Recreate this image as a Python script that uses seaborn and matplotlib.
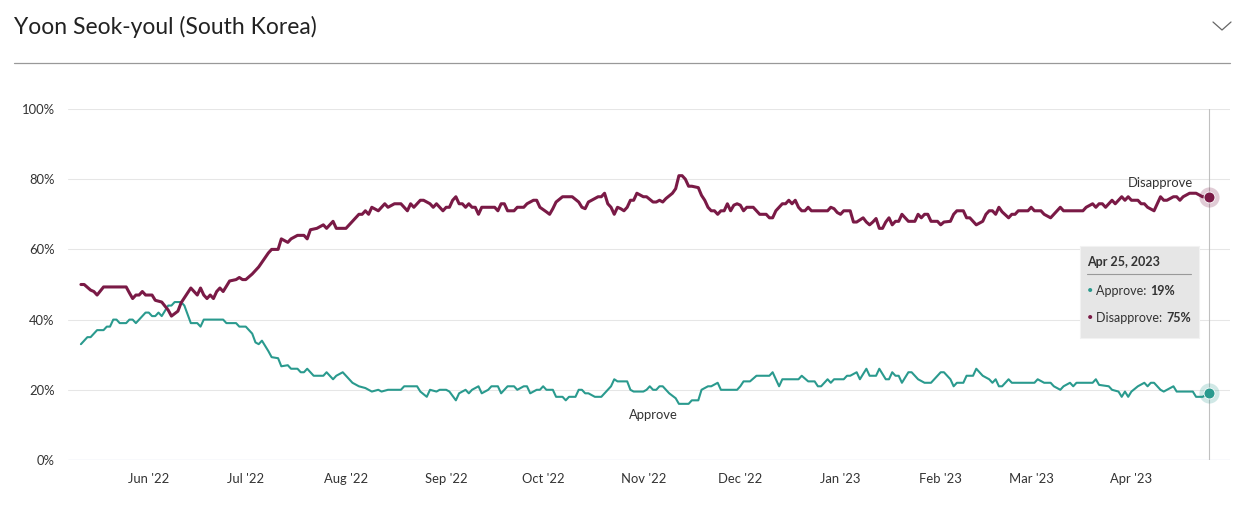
import matplotlib
matplotlib.use("Agg")
import matplotlib.pyplot as plt
import matplotlib.dates as mdates
from matplotlib.patches import Rectangle
from matplotlib.lines import Line2D
import seaborn as sns
import pandas as pd

# ---------------- data ----------------
start_date = "2022-05-11"

approve_days = [0, 2, 3, 5, 7, 8, 9, 10, 11, 12, 14, 15, 16, 17, 18, 20, 21, 22, 23, 24, 25, 27, 28, 29,
                31, 32, 34, 36, 37, 38, 41, 44, 45, 48, 49, 51, 53, 54, 55, 56, 58, 59, 61, 62, 64, 65,
                67, 68, 69, 70, 72, 75, 76, 78, 79, 81, 82, 84, 86, 88, 90, 92, 93, 95, 99, 100, 104,
                105, 107, 108, 110, 111, 113, 114, 116, 117, 118, 119, 120, 121, 122, 123, 124, 126,
                127, 129, 130, 132, 134, 135, 137, 138, 139, 141, 142, 143, 144, 146, 147, 149, 150,
                151, 153, 154, 155, 156, 157, 159, 161, 163, 164, 165, 166, 169, 170, 171, 174, 175,
                176, 177, 178, 179, 180, 182, 184, 185, 188, 189, 191, 192, 194, 195, 197, 198, 203,
                204, 205, 207, 209, 213, 214, 215, 216, 217, 222, 223, 225, 227, 228, 229, 231, 232,
                233, 236, 237, 238, 240, 241, 243, 244, 246, 247, 249, 250, 251, 252, 253, 254, 256,
                257, 259, 261, 263, 264, 266, 267, 269, 270, 271, 273, 274, 276, 277, 279, 281, 282,
                283, 284, 285, 287, 288, 290, 295, 296, 298, 300, 301, 303, 304, 306, 307, 308, 313,
                314, 315, 318, 319, 321, 322, 323, 324, 325, 327, 329, 330, 331, 332, 334, 335, 338,
                339, 342, 344, 345, 347, 349]
approve_vals = [33, 35, 35, 37, 37, 38, 38, 40, 40, 39, 39, 40, 40, 39, 40, 42, 42, 41, 41, 42, 41, 44, 44, 45,
                45, 44, 39, 39, 38, 40, 40, 40, 39, 39, 38, 38, 36, 33.5, 33, 34, 31, 29.3, 29, 26.7, 27, 26,
                26, 25, 25, 26, 24, 24, 25, 23, 24, 25, 24, 22, 21, 20.5, 19.5, 20, 19.5, 20, 20, 21, 21,
                19.5, 18, 20, 19.5, 20, 20, 19.5, 17, 19, 19.5, 20, 19, 20, 20.5, 21, 19, 20,
                21, 21, 19, 21, 21, 20, 21, 21, 19, 20, 20, 21, 20, 20, 18, 18, 17,
                18, 18, 20, 20, 19, 19, 18, 18, 20, 21, 23, 22.4, 22.4, 20, 19.5, 19.5, 20,
                21, 20, 20, 21, 21, 19, 17.6, 16, 16, 17, 17, 20, 21, 21, 22, 20, 20,
                21, 22.4, 22.4, 24, 24, 25, 23, 21, 23, 23, 24, 22.4, 22.4, 21, 21, 23, 22,
                23, 23, 24, 24, 25, 23, 26, 24, 24, 26, 23, 23, 25, 24, 24, 22, 25,
                25, 23, 22, 22, 23, 25, 25, 23, 21, 22, 22, 24, 24, 26, 24, 23, 22,
                23, 21, 21, 23, 22, 22, 22, 23, 22, 22, 21, 20, 21, 22, 21, 22, 22,
                23, 21.4, 21, 20, 19.5, 18, 19.5, 18, 19.5, 21, 22, 21, 22, 22, 20, 19.5, 21,
                19.5, 19.5, 19.5, 18, 18, 19]

disapprove_days = [0, 1, 3, 4, 5, 7, 14, 15, 16, 17, 18, 19, 20, 22, 23, 25, 27, 28, 30, 31, 33, 34, 35, 36,
                   37, 38, 39, 40, 41, 42, 43, 44, 45, 46, 48, 49, 50, 51, 53, 54, 55, 58, 59, 61, 62,
                   64, 65, 67, 69, 70, 71, 73, 75, 76, 78, 79, 82, 83, 84, 86, 87, 88, 89, 90, 92, 94,
                   95, 97, 99, 101, 102, 103, 105, 106, 108, 109, 110, 112, 113, 114, 115, 116, 117,
                   118, 119, 120, 121, 122, 123, 124, 128, 129, 130, 131, 132, 134, 135, 137, 138, 140,
                   141, 142, 144, 145, 146, 147, 149, 152, 154, 155, 156, 157, 158, 160, 161, 162, 163,
                   164, 165, 166, 167, 168, 169, 170, 171, 172, 174, 175, 177, 178, 179, 180, 181, 183,
                   184, 185, 186, 187, 188, 189, 191, 192, 193, 194, 195, 196, 197, 198, 199, 200, 201,
                   202, 203, 204, 205, 206, 208, 210, 212, 213, 214, 215, 217, 218, 219, 220, 221, 222,
                   223, 224, 225, 226, 231, 232, 233, 234, 235, 236, 238, 239, 240, 242, 243, 244, 245,
                   246, 247, 248, 249, 250, 251, 252, 253, 254, 256, 258, 259, 260, 261, 262, 263, 265,
                   266, 267, 269, 270, 271, 273, 274, 275, 277, 279, 280, 281, 282, 283, 284, 285, 287,
                   288, 289, 290, 293, 294, 295, 297, 298, 300, 301, 303, 304, 310, 311, 313, 314, 315,
                   316, 317, 319, 320, 322, 323, 324, 325, 327, 328, 329, 330, 332, 333, 334, 335, 336,
                   338, 339, 340, 341, 343, 345, 347, 349]
disapprove_vals = [50, 50, 48.4, 48, 47, 49.3, 49.3, 47.6, 46, 47, 47, 48, 47, 47, 45.5, 45, 42.7, 41, 42.4, 44.8, 47.6, 49, 48, 47,
                   49, 47, 46, 47, 46, 48, 49, 48, 49.5, 51, 51.4, 52, 51.4, 51.4, 53, 54, 55, 59, 60, 60, 63,
                   62, 63, 64, 64, 63, 65.6, 66, 67, 66, 68, 66, 66, 67, 68, 70, 70, 71, 70, 72, 71, 73,
                   72, 73, 73, 71, 73, 72, 74, 74, 73, 72, 73, 71, 72, 72, 74, 75, 73,
                   73, 72, 73, 72, 72, 70, 72, 72, 71, 73, 73, 71, 71, 72, 72, 73, 74,
                   74, 72, 70.7, 70, 71.6, 73.5, 75, 75, 73.5, 72, 71.6, 73.5, 74, 75, 75, 76, 73,
                   72, 70, 72, 71.6, 71, 72, 74, 74, 76, 75, 75, 73.5, 73.5, 74, 73.5, 74.5, 76,
                   77.3, 81, 81, 80, 78, 78, 77.6, 75.4, 74, 72, 71, 71, 70, 71, 71, 73, 71,
                   72.6, 73, 72.6, 71, 72, 72, 70, 70, 69, 69, 71, 73, 73, 74, 73, 74, 72,
                   71, 71, 72, 71, 71, 72, 71.6, 70.5, 70, 71, 71, 67.8, 67.8, 69, 67.8, 67, 67.8,
                   68.8, 66, 66, 67.8, 69, 67, 68, 68, 70, 68, 68, 70, 69, 70, 70, 68, 68,
                   67, 67.8, 68, 70, 71, 71, 69, 69, 67, 68, 70, 71, 71, 70, 72, 70.7, 69,
                   70, 70, 71, 71, 72, 71, 71, 70, 69, 70, 72, 71, 71, 72, 73, 72, 73,
                   73, 72, 74, 73, 75, 74, 75, 74, 74, 73, 73, 72, 71, 73, 75, 74, 74,
                   75, 75, 74, 75, 76, 76, 75, 75]

series_names = ["Approve", "Disapprove"]
month_ticks = ["2022-06-01", "2022-07-01", "2022-08-01", "2022-09-01", "2022-10-01", "2022-11-01",
               "2022-12-01", "2023-01-01", "2023-02-01", "2023-03-01", "2023-04-01"]
month_ticks_fmt = "%b '%y"
y_ticks = [0, 20, 40, 60, 80, 100]
tooltip_date = "Apr 25, 2023"

# ---------------- build frames ----------------
t0 = pd.Timestamp(start_date)
df_a = pd.DataFrame({"date": t0 + pd.to_timedelta(approve_days, unit="D"),
                     "value": approve_vals, "series": series_names[0]})
df_d = pd.DataFrame({"date": t0 + pd.to_timedelta(disapprove_days, unit="D"),
                     "value": disapprove_vals, "series": series_names[1]})

TEAL = "#2a9a8e"
MAROON = "#7a1a46"

W, H = 1241, 511
sns.set_theme(style="white")
plt.rcParams["font.family"] = ["Lato", "DejaVu Sans"]

fig = plt.figure(figsize=(W / 100, H / 100), dpi=100)
fig.patch.set_facecolor("white")


def px(x, y):
    return (x / W, 1 - y / H)


ax = fig.add_axes([68 / W, (H - 460) / H, (1230 - 68) / W, (460 - 109) / H])

sns.lineplot(data=df_a, x="date", y="value", color=TEAL, linewidth=1.5, ax=ax, legend=False)
sns.lineplot(data=df_d, x="date", y="value", color=MAROON, linewidth=2.2, ax=ax, legend=False)

ax.set_ylim(0, 100)
ax.set_xlim(t0 - pd.Timedelta(days=4), t0 + pd.Timedelta(days=355.5))
ax.set_xlabel("")
ax.set_ylabel("")
for s in ax.spines.values():
    s.set_visible(False)

ax.set_yticks(y_ticks)
ax.set_yticklabels([f"{v}%" for v in y_ticks])
for v in y_ticks:
    ax.axhline(v, color="#ccd6eb" if v == 0 else "#e6e6e6", lw=0.75 if v else 0.9, zorder=0)

ax.set_xticks(pd.to_datetime(month_ticks))
ax.xaxis.set_major_formatter(mdates.DateFormatter(month_ticks_fmt))
ax.tick_params(axis="x", length=7.2, width=0.72, color="#ccd6eb", labelcolor="#333333",
               labelsize=9.4, pad=2.5)
ax.tick_params(axis="y", length=0, labelcolor="#333333", labelsize=9.4, pad=9.5)

# crosshair and end markers
last_a = df_a.iloc[-1]
last_d = df_d.iloc[-1]
ax.axvline(last_a["date"], color="#c0c0c0", lw=0.8, zorder=1)
for row, col in ((last_a, TEAL), (last_d, MAROON)):
    ax.scatter([row["date"]], [row["value"]], s=210, color=col, alpha=0.22, zorder=4,
               linewidths=0)
    ax.scatter([row["date"]], [row["value"]], s=62, color=col, zorder=5,
               edgecolors="white", linewidths=0.6)

# series labels
ax.text(t0 + pd.Timedelta(days=334), 78.9, series_names[1], ha="center", va="center",
        fontsize=9.4, color="#333333")
ax.text(t0 + pd.Timedelta(days=177), 12.8, series_names[0], ha="center", va="center",
        fontsize=9.4, color="#333333")

# title, separator, chevron
fig.text(*px(14, 27), "Yoon Seok-youl (South Korea)", fontsize=16.5, color="#222222",
         ha="left", va="center")
fig.add_artist(Line2D([14 / W, 1230 / W], [1 - 63 / H, 1 - 63 / H], color="#999999", lw=0.9))
fig.add_artist(Line2D([1213 / W, 1222 / W, 1231 / W], [1 - 22 / H, 1 - 30 / H, 1 - 22 / H],
                      color="#666666", lw=0.9))

# tooltip
x0, y0, x1, y1 = 1080, 246, 1199, 338
fig.add_artist(Rectangle(px(x0, y1), (x1 - x0) / W, (y1 - y0) / H, transform=fig.transFigure,
                         facecolor="#e6e6e6", edgecolor="#f2f2f2", lw=0.8, zorder=10))
fig.text(*px(1087, 262), tooltip_date, fontsize=9, fontweight="bold", color="#333333",
         ha="left", va="center", zorder=11)
fig.add_artist(Line2D([1087 / W, 1191 / W], [1 - 274 / H, 1 - 274 / H], color="#999999",
                      lw=0.8, zorder=11))

renderer = fig.canvas.get_renderer()
rows = [(291, TEAL, series_names[0], approve_vals[-1]),
        (318, MAROON, series_names[1], disapprove_vals[-1])]
for yy, col, name, val in rows:
    fig.text(*px(1087, yy - 1), "\u2022", fontsize=8, color=col, ha="left", va="center", zorder=11)
    t = fig.text(*px(1096, yy), f"{name}: ", fontsize=9, color="#333333", ha="left",
                 va="center", zorder=11)
    bb = t.get_window_extent(renderer)
    fig.text(bb.x1 / W + 1 / W, 1 - yy / H, f"{val}%", fontsize=9, fontweight="bold",
             color="#333333", ha="left", va="center", zorder=11)

fig.savefig("out.png", dpi=100, facecolor="white")
